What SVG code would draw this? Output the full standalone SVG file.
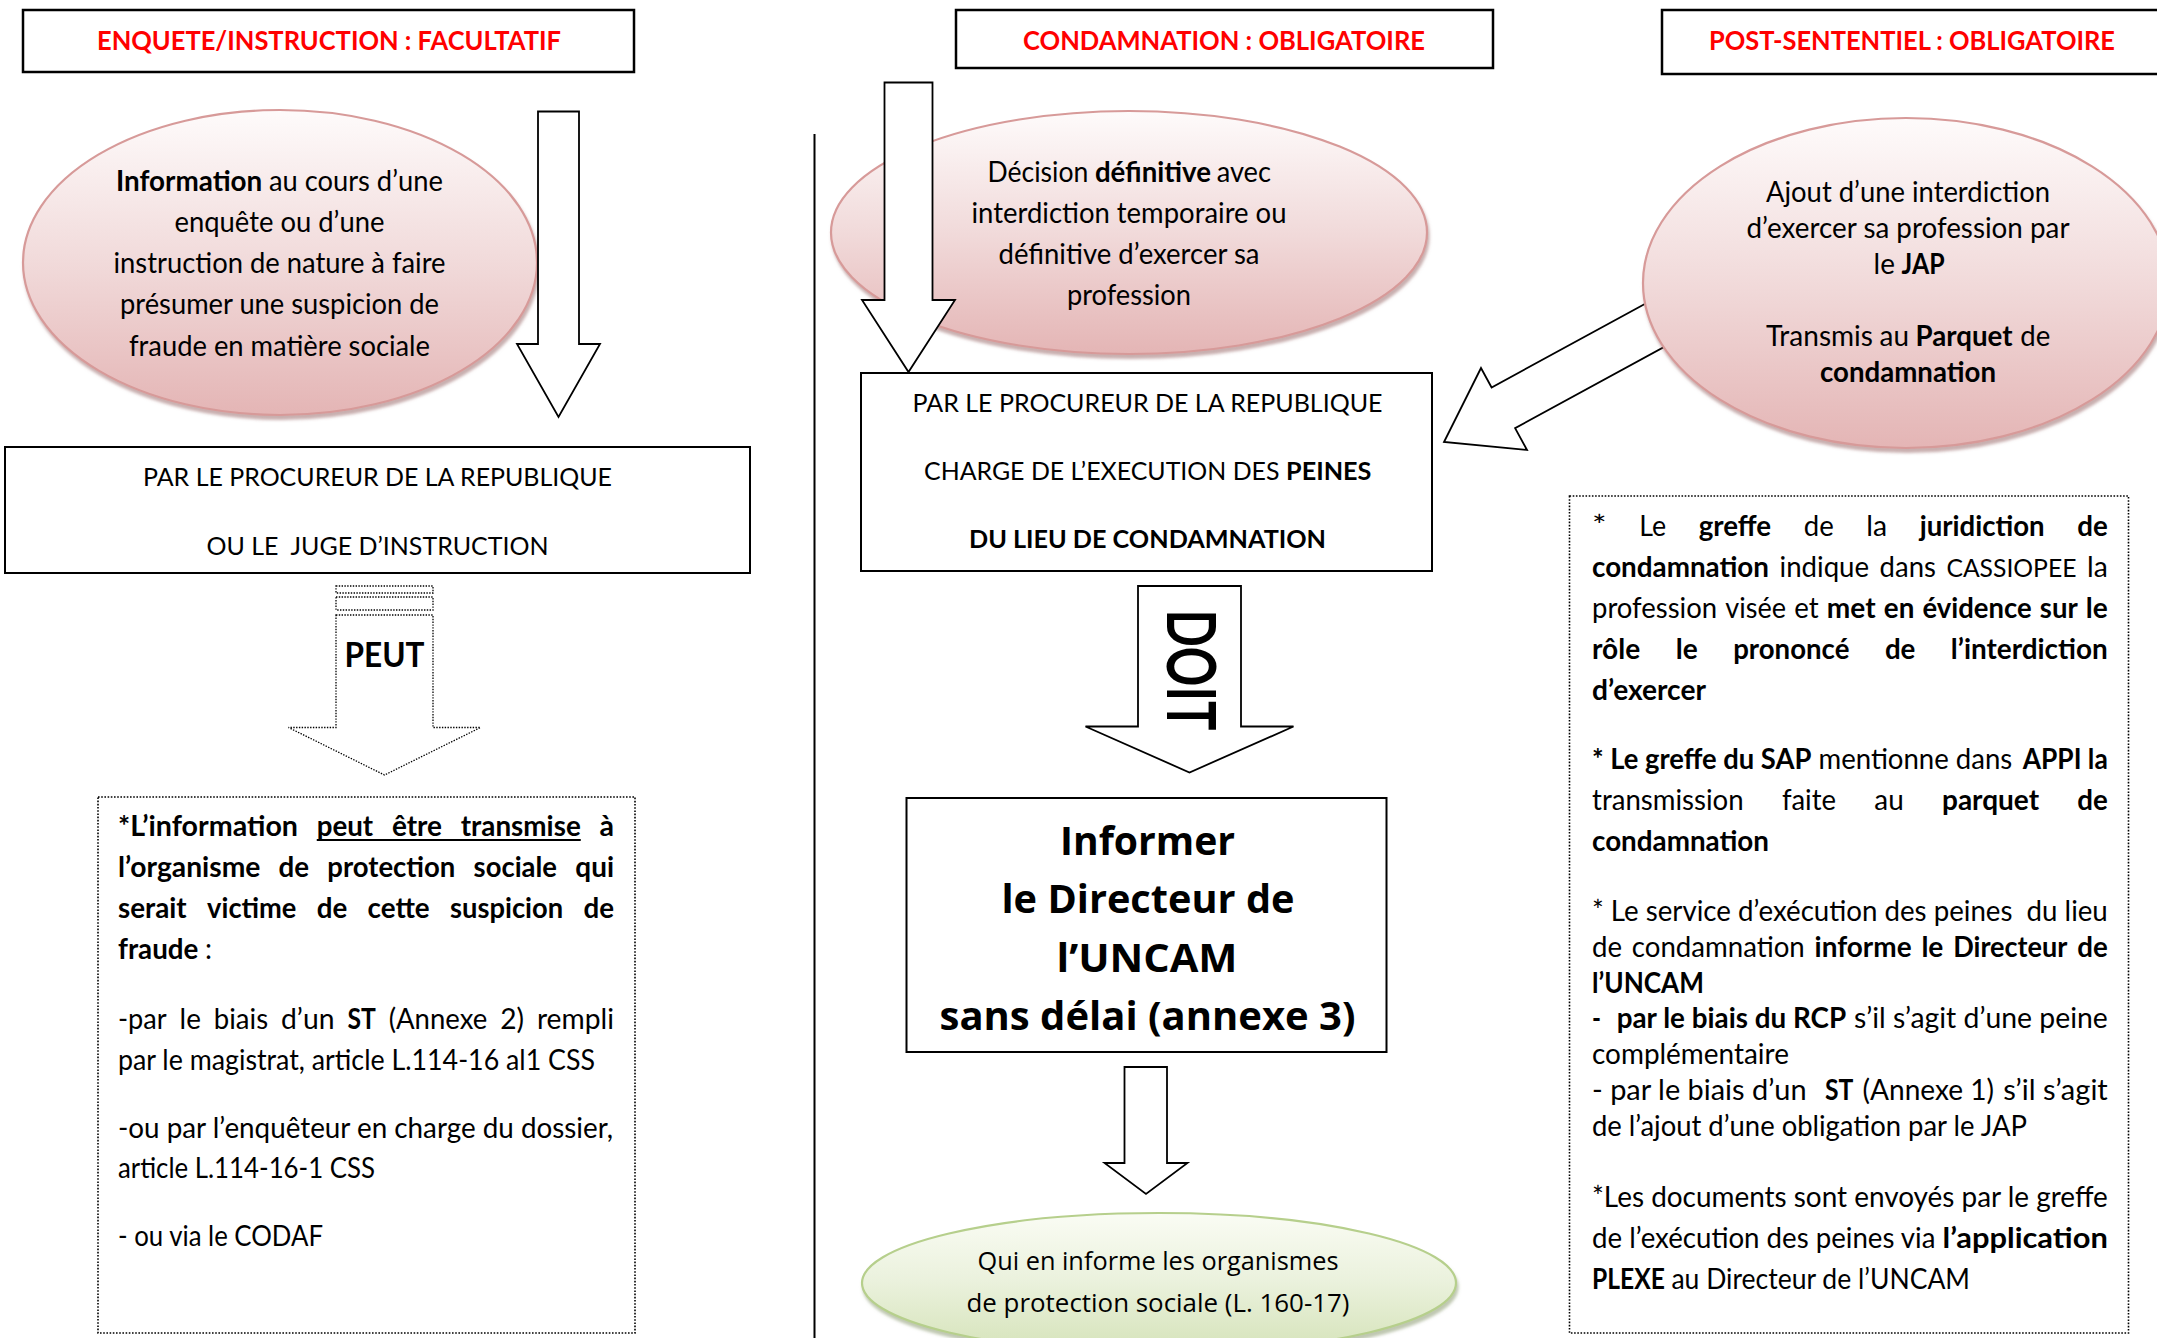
<svg xmlns="http://www.w3.org/2000/svg" width="2157" height="1338" viewBox="0 0 2157 1338">
<defs>
<style>
.t{font-family:Lato,'Liberation Sans',sans-serif;font-size:28px;fill:#000}
.cap{font-size:25px}
.b{font-weight:700}
.c{text-anchor:middle}
.e{text-anchor:end}
.hdr{font-family:Lato,'Liberation Sans',sans-serif;font-size:27px;font-weight:700;fill:#ff0000;text-anchor:middle}
.os{font-family:'Open Sans','Liberation Sans',sans-serif;fill:#000;text-anchor:middle}
.box{fill:#fff;stroke:#000;stroke-width:2}
.hbox{fill:#fff;stroke:#000;stroke-width:2.5}
.dot{fill:#fff;stroke:#000;stroke-width:1.6;stroke-dasharray:1.6 1.6}
.arr{fill:#fff;stroke:#000;stroke-width:1.8;stroke-linejoin:miter}
.darr{fill:#fff;stroke:#000;stroke-width:1.3;stroke-dasharray:1.4 1.4}
.pink{fill:url(#gp);stroke:#d79a99;stroke-width:2.2;filter:url(#sh)}
.green{fill:url(#gg);stroke:#b6cf8c;stroke-width:2.2;filter:url(#shg)}
</style>
<linearGradient id="gp" x1="0" y1="0" x2="0" y2="1">
<stop offset="0" stop-color="#fefbfb"/>
<stop offset="0.5" stop-color="#f1dada"/>
<stop offset="1" stop-color="#e4b5b5"/>
</linearGradient>
<linearGradient id="gg" x1="0" y1="0" x2="0" y2="1">
<stop offset="0" stop-color="#fafcf4"/>
<stop offset="0.5" stop-color="#eaf1dc"/>
<stop offset="1" stop-color="#d5e3b9"/>
</linearGradient>
<filter id="sh" x="-10%" y="-10%" width="120%" height="125%">
<feDropShadow dx="1.5" dy="4" stdDeviation="1.5" flood-color="#9b6c6c" flood-opacity="0.55"/>
</filter>
<filter id="shg" x="-10%" y="-10%" width="120%" height="125%">
<feDropShadow dx="1.5" dy="4" stdDeviation="1.5" flood-color="#8a9a70" flood-opacity="0.55"/>
</filter>
</defs>
<rect x="0" y="0" width="2157" height="1338" fill="#fff"/>

<g id="hdr-enquete">
<rect class="hbox" x="23" y="10" width="611" height="62"/>
<text class="hdr" x="329" y="50" textLength="464" lengthAdjust="spacingAndGlyphs">ENQUETE/INSTRUCTION : FACULTATIF</text>
</g>
<g id="hdr-condamnation">
<rect class="hbox" x="956" y="10" width="537" height="58"/>
<text class="hdr" x="1224" y="50" textLength="402" lengthAdjust="spacingAndGlyphs">CONDAMNATION : OBLIGATOIRE</text>
</g>
<g id="hdr-post">
<rect class="hbox" x="1662" y="10" width="520" height="64"/>
<text class="hdr" x="1912" y="50" textLength="406" lengthAdjust="spacingAndGlyphs">POST-SENTENTIEL : OBLIGATOIRE</text>
</g>

<g id="separator">
<line x1="814.5" y1="134" x2="814.5" y2="1338" stroke="#000" stroke-width="2"/>
</g>

<g id="ell-information">
<ellipse class="pink" cx="280" cy="262.5" rx="257" ry="152.5"/>
<text class="t b" x="116" y="191" textLength="146.3" lengthAdjust="spacingAndGlyphs">Information</text>
<text class="t" x="268.9" y="191" textLength="174" lengthAdjust="spacingAndGlyphs">au cours d’une</text>
<text class="t c" x="279.5" y="232" textLength="210" lengthAdjust="spacingAndGlyphs">enquête ou d’une</text>
<text class="t c" x="279.5" y="273" textLength="332" lengthAdjust="spacingAndGlyphs">instruction de nature à faire</text>
<text class="t c" x="279.5" y="314" textLength="319" lengthAdjust="spacingAndGlyphs">présumer une suspicion de</text>
<text class="t c" x="279.5" y="356" textLength="301" lengthAdjust="spacingAndGlyphs">fraude en matière sociale</text>
</g>

<g id="ell-decision">
<ellipse class="pink" cx="1129" cy="232.5" rx="298" ry="121.5"/>
<text class="t" x="987.5" y="181.5" textLength="100.8" lengthAdjust="spacingAndGlyphs">Décision</text>
<text class="t b" x="1094.9" y="181.5" textLength="116" lengthAdjust="spacingAndGlyphs">définitive</text>
<text class="t e" x="1271" y="181.5" textLength="54.3" lengthAdjust="spacingAndGlyphs">avec</text>
<text class="t c" x="1129" y="222.7" textLength="315" lengthAdjust="spacingAndGlyphs">interdiction temporaire ou</text>
<text class="t c" x="1129" y="264" textLength="261" lengthAdjust="spacingAndGlyphs">définitive d’exercer sa</text>
<text class="t c" x="1129" y="305" textLength="124" lengthAdjust="spacingAndGlyphs">profession</text>
</g>

<g id="box-procureur-instruction">
<rect class="box" x="5" y="447" width="745" height="126"/>
<text class="t cap c" x="377.5" y="486" textLength="469" lengthAdjust="spacingAndGlyphs">PAR LE PROCUREUR DE LA REPUBLIQUE</text>
<text class="t cap c" x="377.5" y="554.5" textLength="342" lengthAdjust="spacingAndGlyphs" xml:space="preserve">OU LE  JUGE D’INSTRUCTION</text>
</g>

<g id="box-procureur-execution">
<rect class="box" x="861" y="373" width="571" height="198"/>
<text class="t cap c" x="1147.5" y="412" textLength="470" lengthAdjust="spacingAndGlyphs">PAR LE PROCUREUR DE LA REPUBLIQUE</text>
<text class="t cap" x="924" y="480" textLength="355.5" lengthAdjust="spacingAndGlyphs">CHARGE DE L’EXECUTION DES</text>
<text class="t cap b" x="1286.1" y="480" textLength="85.3" lengthAdjust="spacingAndGlyphs">PEINES</text>
<text class="t cap c b" x="1147.5" y="548" textLength="357" lengthAdjust="spacingAndGlyphs">DU LIEU DE CONDAMNATION</text>
</g>

<g id="box-info-peut">
<rect class="dot" x="98" y="797" width="537" height="536"/>
<text class="t b" x="118" y="836" textLength="180" lengthAdjust="spacingAndGlyphs">*L’information</text>
<text class="t b" x="316.75" y="836" textLength="56.4" lengthAdjust="spacingAndGlyphs">peut</text>
<text class="t b" x="391.9" y="836" textLength="50.1" lengthAdjust="spacingAndGlyphs">être</text>
<text class="t b" x="460.75" y="836" textLength="120" lengthAdjust="spacingAndGlyphs">transmise</text>
<text class="t b e" x="614" y="836" textLength="14.5" lengthAdjust="spacingAndGlyphs">à</text>
<line x1="316.75" y1="840" x2="580.75" y2="840" stroke="#000" stroke-width="1.8"/>
<text class="t b" x="118" y="877" textLength="142.4" lengthAdjust="spacingAndGlyphs">l’organisme</text>
<text class="t b" x="278.6" y="877" textLength="30.5" lengthAdjust="spacingAndGlyphs">de</text>
<text class="t b" x="327.3" y="877" textLength="128.1" lengthAdjust="spacingAndGlyphs">protection</text>
<text class="t b" x="473.6" y="877" textLength="83.4" lengthAdjust="spacingAndGlyphs">sociale</text>
<text class="t b e" x="614" y="877" textLength="38.7" lengthAdjust="spacingAndGlyphs">qui</text>
<text class="t b" x="118" y="918" textLength="68.7" lengthAdjust="spacingAndGlyphs">serait</text>
<text class="t b" x="207.1" y="918" textLength="89.3" lengthAdjust="spacingAndGlyphs">victime</text>
<text class="t b" x="316.7" y="918" textLength="30.5" lengthAdjust="spacingAndGlyphs">de</text>
<text class="t b" x="367.6" y="918" textLength="62.1" lengthAdjust="spacingAndGlyphs">cette</text>
<text class="t b" x="450" y="918" textLength="113.1" lengthAdjust="spacingAndGlyphs">suspicion</text>
<text class="t b e" x="614" y="918" textLength="30.5" lengthAdjust="spacingAndGlyphs">de</text>
<text class="t b" x="118" y="959" textLength="80.4" lengthAdjust="spacingAndGlyphs">fraude</text>
<text class="t" x="205" y="959">:</text>
<text class="t" x="118" y="1028.5" textLength="48.7" lengthAdjust="spacingAndGlyphs">-par</text>
<text class="t" x="179.6" y="1028.5" textLength="21.3" lengthAdjust="spacingAndGlyphs">le</text>
<text class="t" x="213.8" y="1028.5" textLength="54.3" lengthAdjust="spacingAndGlyphs">biais</text>
<text class="t" x="281" y="1028.5" textLength="53.5" lengthAdjust="spacingAndGlyphs">d’un</text>
<text class="t b" x="347.4" y="1028.5" textLength="28.4" lengthAdjust="spacingAndGlyphs">ST</text>
<text class="t" x="388.7" y="1028.5" textLength="98.6" lengthAdjust="spacingAndGlyphs">(Annexe</text>
<text class="t" x="500.2" y="1028.5" textLength="23.8" lengthAdjust="spacingAndGlyphs">2)</text>
<text class="t e" x="614" y="1028.5" textLength="77.1" lengthAdjust="spacingAndGlyphs">rempli</text>
<text class="t" x="118" y="1069.5" textLength="477" lengthAdjust="spacingAndGlyphs">par le magistrat, article L.114-16 al1 CSS</text>
<text class="t" x="118" y="1138" textLength="495" lengthAdjust="spacingAndGlyphs">-ou par l’enquêteur en charge du dossier,</text>
<text class="t" x="118" y="1178" textLength="257" lengthAdjust="spacingAndGlyphs">article L.114-16-1 CSS</text>
<text class="t" x="118" y="1246" textLength="205" lengthAdjust="spacingAndGlyphs">- ou via le CODAF</text>
</g>

<g id="box-uncam">
<rect class="box" x="906.5" y="798" width="480" height="254"/>
<text class="os" font-size="39.5" font-weight="700" x="1147.5" y="855" textLength="175" lengthAdjust="spacingAndGlyphs">Informer</text>
<text class="os" font-size="39.5" font-weight="700" x="1148" y="913" textLength="293" lengthAdjust="spacingAndGlyphs">le Directeur de</text>
<text class="os" font-size="39.5" font-weight="700" x="1147" y="972" textLength="181" lengthAdjust="spacingAndGlyphs">l’UNCAM</text>
<text class="os" font-size="39.5" font-weight="700" x="1147.5" y="1030" textLength="416" lengthAdjust="spacingAndGlyphs">sans délai (annexe 3)</text>
</g>

<g id="box-greffe">
<rect class="dot" x="1569.5" y="496" width="559" height="837"/>
<text class="t" x="1592" y="536" textLength="14.6" lengthAdjust="spacingAndGlyphs">*</text>
<text class="t" x="1639.2" y="536" textLength="26.9" lengthAdjust="spacingAndGlyphs">Le</text>
<text class="t b" x="1698.7" y="536" textLength="72.4" lengthAdjust="spacingAndGlyphs">greffe</text>
<text class="t" x="1803.7" y="536" textLength="30" lengthAdjust="spacingAndGlyphs">de</text>
<text class="t" x="1866.3" y="536" textLength="20.8" lengthAdjust="spacingAndGlyphs">la</text>
<text class="t b" x="1919.7" y="536" textLength="125" lengthAdjust="spacingAndGlyphs">juridiction</text>
<text class="t b e" x="2107.8" y="536" textLength="30.5" lengthAdjust="spacingAndGlyphs">de</text>
<text class="t b" x="1592" y="577" textLength="177" lengthAdjust="spacingAndGlyphs">condamnation</text>
<text class="t" x="1779.5" y="577" textLength="89.6" lengthAdjust="spacingAndGlyphs">indique</text>
<text class="t" x="1879.6" y="577" textLength="56.3" lengthAdjust="spacingAndGlyphs">dans</text>
<text class="t cap" x="1946.4" y="577" textLength="130.1" lengthAdjust="spacingAndGlyphs">CASSIOPEE</text>
<text class="t e" x="2107.8" y="577" textLength="20.8" lengthAdjust="spacingAndGlyphs">la</text>
<text class="t" x="1592" y="618" textLength="125.1" lengthAdjust="spacingAndGlyphs">profession</text>
<text class="t" x="1725.3" y="618" textLength="60.7" lengthAdjust="spacingAndGlyphs">visée</text>
<text class="t" x="1794.2" y="618" textLength="24.4" lengthAdjust="spacingAndGlyphs">et</text>
<text class="t b" x="1826.8" y="618" textLength="48.8" lengthAdjust="spacingAndGlyphs">met</text>
<text class="t b" x="1883.8" y="618" textLength="30.5" lengthAdjust="spacingAndGlyphs">en</text>
<text class="t b" x="1922.5" y="618" textLength="109.1" lengthAdjust="spacingAndGlyphs">évidence</text>
<text class="t b" x="2039.8" y="618" textLength="37.9" lengthAdjust="spacingAndGlyphs">sur</text>
<text class="t b e" x="2107.8" y="618" textLength="22" lengthAdjust="spacingAndGlyphs">le</text>
<text class="t b" x="1592" y="659" textLength="48.2" lengthAdjust="spacingAndGlyphs">rôle</text>
<text class="t b" x="1675.7" y="659" textLength="22" lengthAdjust="spacingAndGlyphs">le</text>
<text class="t b" x="1733.2" y="659" textLength="116.2" lengthAdjust="spacingAndGlyphs">prononcé</text>
<text class="t b" x="1884.9" y="659" textLength="30.5" lengthAdjust="spacingAndGlyphs">de</text>
<text class="t b e" x="2107.8" y="659" textLength="157" lengthAdjust="spacingAndGlyphs">l’interdiction</text>
<text class="t b" x="1592" y="700" textLength="113.9" lengthAdjust="spacingAndGlyphs">d’exercer</text>
<text class="t b" x="1592" y="769" textLength="219.4" lengthAdjust="spacingAndGlyphs">* Le greffe du SAP</text>
<text class="t" x="1818.5" y="769" textLength="193.8" lengthAdjust="spacingAndGlyphs">mentionne dans</text>
<text class="t b e" x="2107.8" y="769" textLength="85.1" lengthAdjust="spacingAndGlyphs">APPI la</text>
<text class="t" x="1592" y="810" textLength="151.6" lengthAdjust="spacingAndGlyphs">transmission</text>
<text class="t" x="1781.9" y="810" textLength="54.1" lengthAdjust="spacingAndGlyphs">faite</text>
<text class="t" x="1874.3" y="810" textLength="29.4" lengthAdjust="spacingAndGlyphs">au</text>
<text class="t b" x="1942" y="810" textLength="97.1" lengthAdjust="spacingAndGlyphs">parquet</text>
<text class="t b e" x="2107.8" y="810" textLength="30.5" lengthAdjust="spacingAndGlyphs">de</text>
<text class="t b" x="1592" y="851" textLength="177" lengthAdjust="spacingAndGlyphs">condamnation</text>
<text class="t" x="1592" y="921" textLength="515.8" lengthAdjust="spacingAndGlyphs" xml:space="preserve">* Le service d’exécution des peines  du lieu</text>
<text class="t" x="1592" y="957" textLength="30" lengthAdjust="spacingAndGlyphs">de</text>
<text class="t" x="1631.8" y="957" textLength="173" lengthAdjust="spacingAndGlyphs">condamnation</text>
<text class="t b" x="1814.6" y="957" textLength="97" lengthAdjust="spacingAndGlyphs">informe</text>
<text class="t b" x="1921.4" y="957" textLength="22" lengthAdjust="spacingAndGlyphs">le</text>
<text class="t b" x="1953.2" y="957" textLength="114.2" lengthAdjust="spacingAndGlyphs">Directeur</text>
<text class="t b e" x="2107.8" y="957" textLength="30.5" lengthAdjust="spacingAndGlyphs">de</text>
<text class="t b" x="1592" y="993" textLength="112" lengthAdjust="spacingAndGlyphs">l’UNCAM</text>
<text class="t b" x="1592" y="1028" textLength="9" lengthAdjust="spacingAndGlyphs">-</text>
<text class="t b" x="1616.7" y="1028" textLength="229.5" lengthAdjust="spacingAndGlyphs">par le biais du RCP</text>
<text class="t e" x="2107.8" y="1028" textLength="253.7" lengthAdjust="spacingAndGlyphs">s’il s’agit d’une peine</text>
<text class="t" x="1592" y="1064" textLength="196.9" lengthAdjust="spacingAndGlyphs">complémentaire</text>
<text class="t" x="1592" y="1100" textLength="214.6" lengthAdjust="spacingAndGlyphs">- par le biais d’un</text>
<text class="t b" x="1825" y="1100" textLength="28.4" lengthAdjust="spacingAndGlyphs">ST</text>
<text class="t" x="1862.6" y="1100" textLength="131.5" lengthAdjust="spacingAndGlyphs">(Annexe 1)</text>
<text class="t e" x="2107.8" y="1100" textLength="104.6" lengthAdjust="spacingAndGlyphs">s’il s’agit</text>
<text class="t" x="1592" y="1136" textLength="435" lengthAdjust="spacingAndGlyphs">de l’ajout d’une obligation par le JAP</text>
<text class="t" x="1592" y="1207" textLength="515.8" lengthAdjust="spacingAndGlyphs">*Les documents sont envoyés par le greffe</text>
<text class="t" x="1592" y="1248" textLength="343.4" lengthAdjust="spacingAndGlyphs">de l’exécution des peines via</text>
<text class="t b e" x="2107.8" y="1248" textLength="165.3" lengthAdjust="spacingAndGlyphs">l’application</text>
<text class="t b" x="1592" y="1289" textLength="72.8" lengthAdjust="spacingAndGlyphs">PLEXE</text>
<text class="t" x="1671.4" y="1289" textLength="298.6" lengthAdjust="spacingAndGlyphs">au Directeur de l’UNCAM</text>
</g>

<g id="connectors">
<polygon id="arrow-info-to-procureur" class="arr" points="538,111.5 579,111.5 579,344 600,344 558.5,417 517,344 538,344"/>
<polygon id="arrow-decision-to-procureur" class="arr" points="884.5,82.5 932.5,82.5 932.5,300 955,300 908.5,372 862,300 884.5,300"/>
<g id="arrow-peut">
<rect class="darr" x="336" y="586" width="97" height="7"/>
<rect class="darr" x="336" y="597" width="97" height="13"/>
<polygon class="darr" points="336,615 433,615 433,727.5 480.5,727.5 384.5,775 288.5,727.5 336,727.5"/>
<text class="t b c" style="font-size:34px" x="384.5" y="667" textLength="80" lengthAdjust="spacingAndGlyphs">PEUT</text>
</g>
<g id="arrow-doit">
<polygon class="arr" points="1138,586 1241,586 1241,726.5 1293.5,726.5 1189.5,772.5 1085.5,726.5 1138,726.5"/>
<text class="t b c" style="font-size:66px" transform="translate(1167,670) rotate(90)" x="0" y="0" textLength="121" lengthAdjust="spacingAndGlyphs">DOIT</text>
</g>
<polygon id="arrow-uncam-to-organismes" class="arr" points="1124.5,1067 1167,1067 1167,1163 1187.5,1163 1146,1194 1104.5,1163 1124.5,1163"/>
<polygon id="arrow-ajout-to-procureur" class="arr" points="1665,293 1491.6,387.5 1481,368 1444,442 1527,450 1515.1,428.1 1685,335.6"/>
</g>

<g id="ell-ajout">
<ellipse class="pink" cx="1906" cy="283" rx="263" ry="165"/>
<text class="t c" x="1908" y="202" textLength="284" lengthAdjust="spacingAndGlyphs">Ajout d’une interdiction</text>
<text class="t c" x="1908" y="238" textLength="323" lengthAdjust="spacingAndGlyphs">d’exercer sa profession par</text>
<text class="t" x="1873.6" y="274" textLength="21.3" lengthAdjust="spacingAndGlyphs">le</text>
<text class="t b" x="1901.5" y="274" textLength="43.1" lengthAdjust="spacingAndGlyphs">JAP</text>
<text class="t" x="1765.9" y="346" textLength="107.1" lengthAdjust="spacingAndGlyphs">Transmis</text>
<text class="t" x="1879.6" y="346" textLength="29.4" lengthAdjust="spacingAndGlyphs">au</text>
<text class="t b" x="1915.6" y="346" textLength="96.9" lengthAdjust="spacingAndGlyphs">Parquet</text>
<text class="t e" x="2050.3" y="346" textLength="30" lengthAdjust="spacingAndGlyphs">de</text>
<text class="t c b" x="1908" y="382" textLength="176" lengthAdjust="spacingAndGlyphs">condamnation</text>
</g>

<g id="ell-organismes">
<ellipse class="green" cx="1159" cy="1283" rx="297" ry="70"/>
<text class="os" font-size="25" x="1158" y="1270" textLength="361" lengthAdjust="spacingAndGlyphs">Qui en informe les organismes</text>
<text class="os" font-size="25" x="1158" y="1312" textLength="383" lengthAdjust="spacingAndGlyphs">de protection sociale (L. 160-17)</text>
</g>
</svg>
